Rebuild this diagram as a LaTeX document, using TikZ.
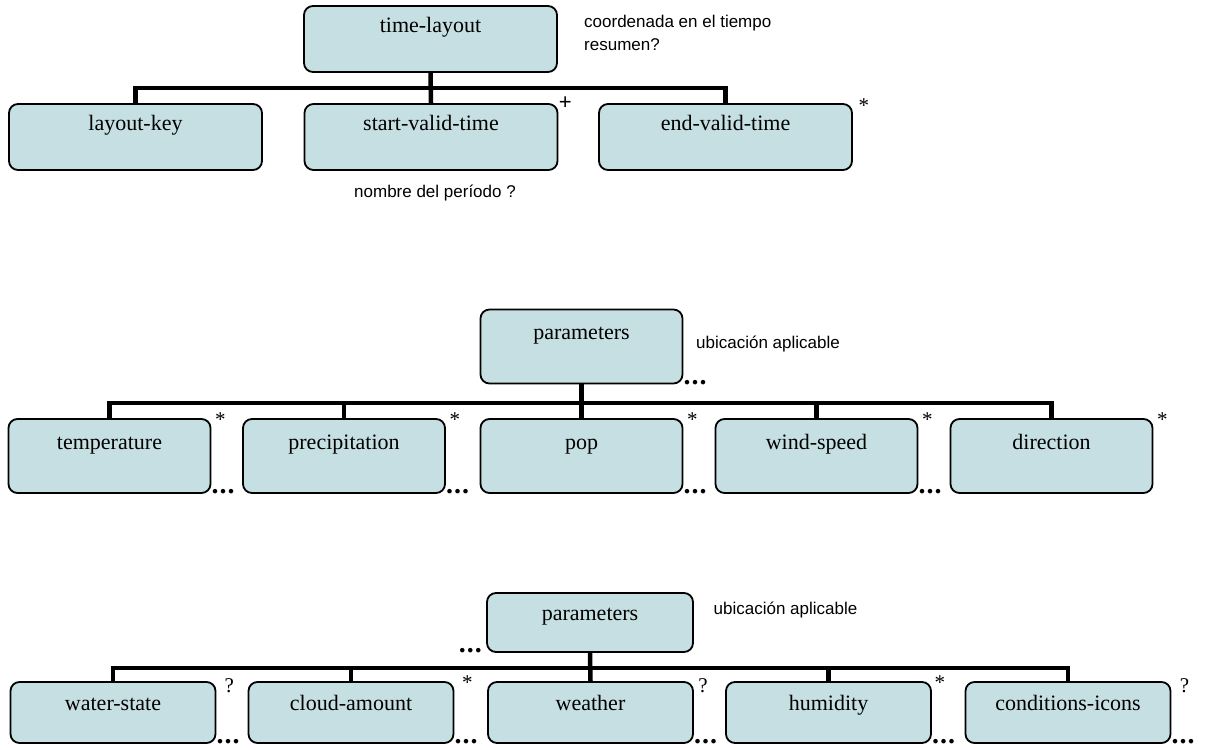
\documentclass[tikz,border=0pt]{standalone}
\usepackage{fontspec}
\setmainfont{Liberation Serif}
\newfontfamily\notefont{Liberation Sans}
\definecolor{boxfill}{RGB}{198,223,226}
\begin{document}
\begin{tikzpicture}[x=1pt,y=-1pt,
  box/.style={draw=black, line width=1.8pt, fill=boxfill, rounded corners=9pt,
    inner sep=0pt, font=\fontsize{22}{26}\selectfont, align=center},
  rowA/.style={box, minimum width=253pt, text height=27pt, text depth=39pt},
  rowB/.style={box, minimum width=202pt, text height=30pt, text depth=44pt},
  rowCp/.style={box, minimum width=206pt, text height=27pt, text depth=32pt},
  rowC/.style={box, minimum width=205pt, text height=28pt, text depth=33pt},
  conn/.style={line width=4.5pt},
  note/.style={font=\notefont\fontsize{17}{23}\selectfont, inner sep=0pt, align=left},
  suf/.style={font=\fontsize{21}{24}\selectfont, inner sep=0pt},
  plus/.style={font=\notefont\fontsize{22}{24}\selectfont, inner sep=0pt},
  dots/.style={font=\bfseries\fontsize{28}{30}\selectfont, inner sep=0pt}
]
\useasboundingbox (0,0) rectangle (1214,749);

% ---------- top tree ----------
\node[rowA] (tl) at (430.5,39) {time-layout};
\node[rowA] (lk) at (135.5,137) {layout-key};
\node[rowA] (sv) at (431,137) {start-valid-time};
\node[rowA] (ev) at (725.5,137) {end-valid-time};
\coordinate (barA) at (0,88);
\draw[conn] (tl.south) -- (sv.north);
\draw[conn] (lk.north) |- (barA -| ev.north) -- (ev.north);
\node[plus] at ([xshift=7pt,yshift=0pt]sv.north east) {+};
\node[suf] at ([xshift=11pt,yshift=-3pt]ev.north east) {*};
\node[note, anchor=north west] (n1) at (584,15) {coordenada en el tiempo\\resumen?};
\node[note, anchor=west] (n2) at (354,193) {nombre del período ?};

% ---------- middle tree ----------
\node[rowB] (pm) at (581.5,346.5) {parameters};
\node[rowB] (m1) at (109.5,456) {temperature};
\node[rowB] (m2) at (344,456) {precipitation};
\node[rowB] (m3) at (581.5,456) {pop};
\node[rowB] (m4) at (816.5,456) {wind-speed};
\node[rowB] (m5) at (1051.5,456) {direction};
\coordinate (barB) at (0,403);
\draw[conn] (pm.south) -- (m3.north);
\draw[conn] (m1.north) |- (barB -| m5.north) -- (m5.north);
\draw[conn] (m2.north) -- (m2.north |- barB);
\draw[conn] (m4.north) -- (m4.north |- barB);
\node[dots, anchor=base west] at ([xshift=0pt]pm.south east) {.\hspace{1pt}.\hspace{1pt}.};
\foreach \n in {m1,m2,m3,m4,m5}{
  \node[suf] at ([xshift=9pt,yshift=-2pt]\n.north east) {*};
}
\foreach \n in {m1,m2,m3,m4}{
  \node[dots, anchor=base west] at ([xshift=0pt]\n.south east) {.\hspace{1pt}.\hspace{1pt}.};
}
\node[note, anchor=west] (n3) at (696,344) {ubicación aplicable};

% ---------- bottom tree ----------
\node[rowCp] (pb) at (590,622.5) {parameters};
\node[rowC] (b1) at (113,712.5) {water-state};
\node[rowC] (b2) at (351,712.5) {cloud-amount};
\node[rowC] (b3) at (590.5,712.5) {weather};
\node[rowC] (b4) at (828.5,712.5) {humidity};
\node[rowC] (b5) at (1068,712.5) {conditions-icons};
\coordinate (barC) at (0,668);
\draw[conn] (pb.south) -- (b3.north);
\draw[conn] (b1.north) |- (barC -| b5.north) -- (b5.north);
\draw[conn] (b2.north) -- (b2.north |- barC);
\draw[conn] (b4.north) -- (b4.north |- barC);
\node[dots, anchor=base east] at ([xshift=-4pt]pb.south west) {.\hspace{1pt}.\hspace{1pt}.};
\node[suf] at ([xshift=13pt,yshift=-5pt]b1.north east) {?};
\node[suf] at ([xshift=13pt,yshift=-2pt]b2.north east) {*};
\node[suf] at ([xshift=9pt,yshift=-5pt]b3.north east) {?};
\node[suf] at ([xshift=8pt,yshift=-2pt]b4.north east) {*};
\node[suf] at ([xshift=13pt,yshift=-5pt]b5.north east) {?};
\foreach \n in {b1,b2,b3,b4,b5}{
  \node[dots, anchor=base west] at ([xshift=0pt]\n.south east) {.\hspace{1pt}.\hspace{1pt}.};
}
\node[note, anchor=west] (n4) at (713.5,610) {ubicación aplicable};
\end{tikzpicture}
\end{document}
